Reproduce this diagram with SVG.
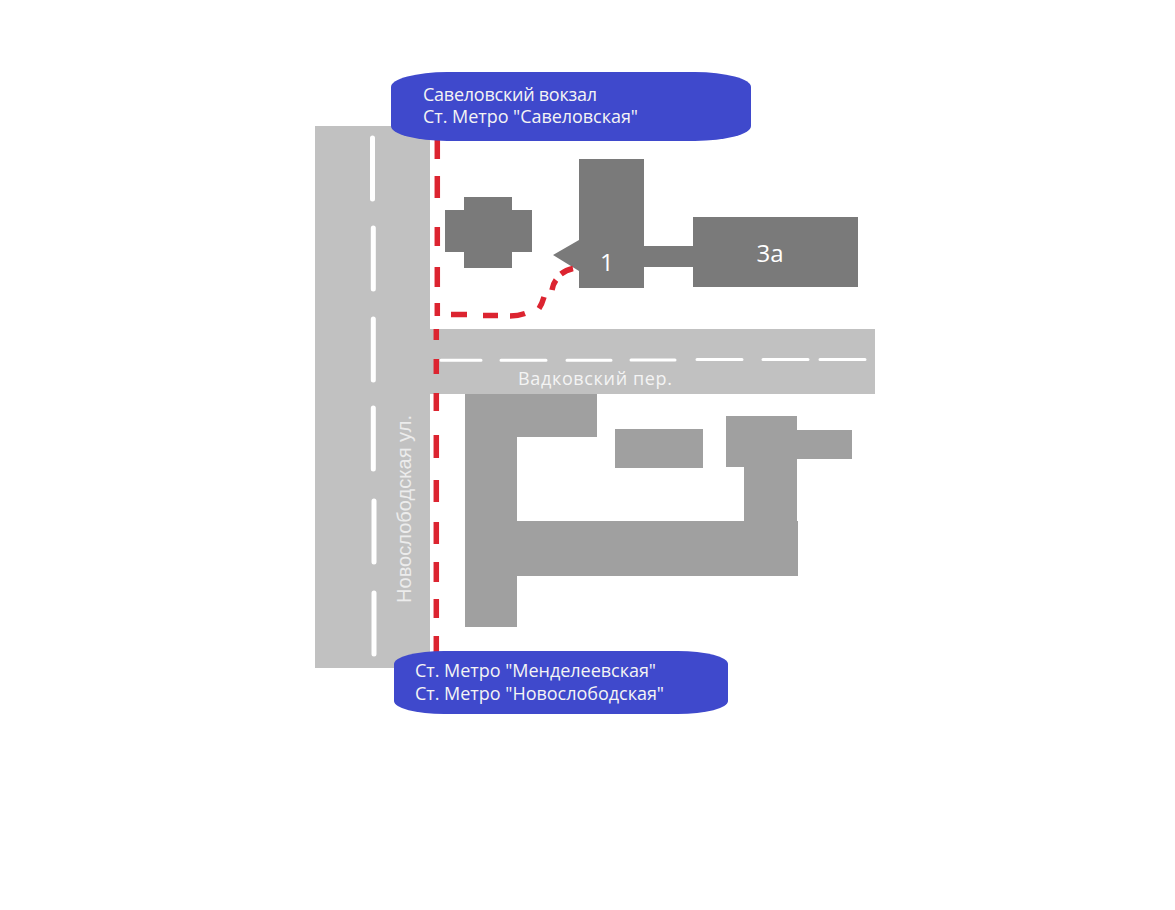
<svg xmlns="http://www.w3.org/2000/svg" width="1175" height="910" viewBox="0 0 1175 910">
<style>
.road{fill:#c1c1c1}
.dark{fill:#7a7a7a}
.light{fill:#a0a0a0}
.pill{fill:#3f49cc}
.mark{fill:none;stroke:#fff;stroke-linecap:round}
.route{fill:none;stroke:#dc2430;stroke-width:5.500}
text{font-family:"Open Sans","Noto Sans","Liberation Sans",sans-serif;fill:#f4f4f4}
.lbl{font-size:18px}
.big{font-size:24px;fill:#fff}
.side{font-family:"Liberation Sans",Arial,sans-serif;font-size:20px;fill:#ececec}
</style>
<rect width="1175" height="910" fill="#fff"/>
<g id="road-novoslobodskaya">
<rect class="road" x="315" y="126" width="115" height="542"/>
<path class="mark" stroke-width="5" d="M372.500 138V199M373.300 228V289M373.300 319V380M373.300 408V469M374 501V562M374 593V654"/>
</g>
<g id="road-vadkovsky">
<rect class="road" x="430" y="329" width="445" height="65"/>
<path class="mark" stroke-width="3" d="M441 360.300H481M501 360.300H546M567 360.300H611M631 360H675M697 359.500H742M763 359.500H808M820 359.500H865"/>
<text class="lbl" x="518" y="385" textLength="154">Вадковский пер.</text>
</g>
<text id="label-novoslobodskaya" class="side" transform="translate(410.500 603) rotate(-90)" textLength="188" lengthAdjust="spacingAndGlyphs">Новослободская ул.</text>
<g id="building-cross">
<path class="dark" d="M464 197H512V210H532V252H512V268H464V252H445V210H464Z"/>
</g>
<g id="building-1">
<path class="dark" d="M579 159H644V288H579V271L553 255L579 240Z"/>
<text class="big" x="600" y="270.500">1</text>
</g>
<g id="building-3a">
<rect class="dark" x="644" y="246" width="50" height="21"/>
<rect class="dark" x="693" y="217" width="165" height="70"/>
<text class="big" x="756.500" y="261.500">3а</text>
</g>
<g id="building-complex">
<path class="light" d="M465 394H597V437H517V521H744V467H726V416H797V430H852V459H797V521H798V576H517V627H465Z"/>
</g>
<g id="building-small">
<rect class="light" x="615" y="429" width="88" height="39"/>
</g>
<g id="connectors">
<path class="route" d="M437.300 140V159M437.300 176V198M437.300 227V246M437.300 267V287M437.300 303V316M436.300 329V340M436.300 359V374M436.300 393V411M436.300 435V458M436.300 480V502M436.300 522V544M436.300 562V582M436.300 599V618M436.300 636V655"/>
<path class="route" d="M451 314.500H467M483 315.500H498M510 316Q518 316 525 313.500M539 308.500Q542 304 544 297M552 290Q553 284 556 280M561 274Q566 270 573 268.500"/>
</g>
<g id="station-savelovsky">
<rect class="pill" x="391" y="72" width="360" height="69" rx="56" ry="15"/>
<text class="lbl" x="423" y="100.500" textLength="174">Савеловский вокзал</text>
<text class="lbl" x="423" y="123" textLength="215">Ст. Метро "Савеловская"</text>
</g>
<g id="station-mendeleevskaya">
<rect class="pill" x="394" y="651" width="334" height="63" rx="50" ry="13"/>
<text class="lbl" x="415" y="677" textLength="241">Ст. Метро "Менделеевская"</text>
<text class="lbl" x="415" y="700" textLength="249">Ст. Метро "Новослободская"</text>
</g>
</svg>
